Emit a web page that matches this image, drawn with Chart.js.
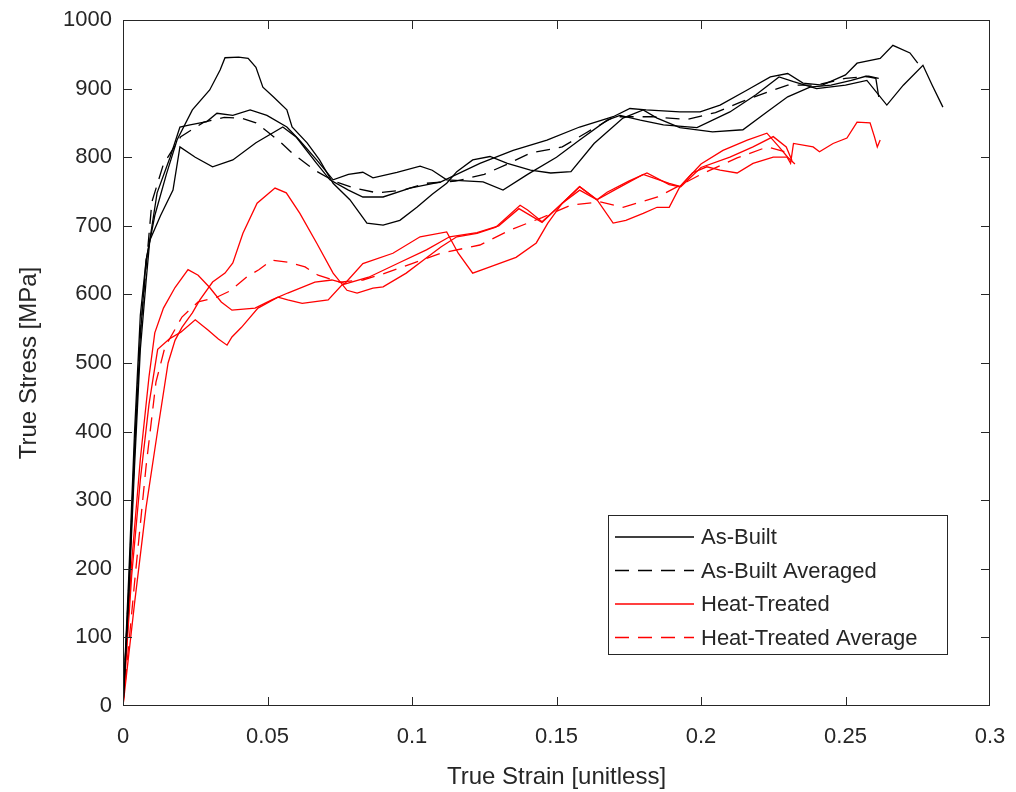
<!DOCTYPE html>
<html>
<head>
<meta charset="utf-8">
<script src="https://cdn.jsdelivr.net/npm/chart.js@4.4.1/dist/chart.umd.min.js"></script>
<style>
  body { margin: 0; background: #fff; }
  canvas { display: block; }
</style>
</head>
<body>
<canvas id="stressChart" width="1016" height="792"></canvas>
<script>
// axis ticks
const strainTicks = [0, 0.05, 0.1, 0.15, 0.2, 0.25, 0.3];
const stressTicks = [0, 100, 200, 300, 400, 500, 600, 700, 800, 900, 1000];

// As-Built specimens (strain, stress in MPa)
const ab1Strain = [0, 0.002, 0.004, 0.006, 0.008, 0.011, 0.015, 0.0187, 0.024, 0.030, 0.0336, 0.0353, 0.040, 0.0433, 0.046, 0.0484, 0.052, 0.0567, 0.0585, 0.0637, 0.068, 0.0727, 0.0785, 0.0844, 0.090, 0.0958, 0.1017, 0.107, 0.112, 0.1155, 0.121, 0.127, 0.133, 0.141, 0.148, 0.155, 0.163, 0.173, 0.180, 0.1848, 0.1927, 0.204, 0.2145, 0.2228, 0.230, 0.2377, 0.245, 0.252, 0.257, 0.2605, 0.2615];
const ab1Stress = [0, 170, 370, 540, 650, 715, 775, 825, 869, 898, 927, 945, 946, 944, 931, 902, 888, 869, 844, 821, 796, 762, 738, 704, 701, 708, 727, 746, 762, 779, 796, 801, 791, 781, 777, 779, 820, 857, 869, 857, 843, 837, 840, 866, 888, 902, 905, 912, 918, 915, 888];

const ab2Strain = [0, 0.002, 0.004, 0.006, 0.008, 0.0093, 0.0118, 0.0163, 0.0197, 0.0232, 0.029, 0.0325, 0.038, 0.044, 0.0498, 0.0567, 0.061, 0.067, 0.0727, 0.078, 0.083, 0.0865, 0.0948, 0.1028, 0.107, 0.112, 0.1246, 0.1315, 0.140, 0.150, 0.158, 0.1675, 0.172, 0.179, 0.187, 0.1986, 0.210, 0.219, 0.227, 0.232, 0.240, 0.250, 0.2574, 0.2643, 0.270, 0.2768, 0.280, 0.2837];
const ab2Stress = [0, 160, 350, 520, 620, 680, 748, 800, 844, 847, 852, 864, 861, 869, 861, 844, 825, 796, 767, 775, 778, 770, 778, 787, 781, 767, 764, 752, 775, 800, 825, 854, 861, 854, 847, 843, 866, 891, 917, 910, 900, 905, 912, 876, 905, 934, 905, 873];

const ab3Strain = [0, 0.002, 0.004, 0.006, 0.008, 0.0093, 0.013, 0.0173, 0.0197, 0.025, 0.031, 0.038, 0.046, 0.0553, 0.060, 0.067, 0.0716, 0.078, 0.083, 0.090, 0.0993, 0.110, 0.1235, 0.135, 0.1467, 0.158, 0.1696, 0.1754, 0.181, 0.1927, 0.1997, 0.2066, 0.216, 0.224, 0.230, 0.2353, 0.242, 0.250, 0.254, 0.262, 0.2664, 0.2723, 0.275];
const ab3Stress = [0, 190, 400, 570, 650, 679, 715, 752, 815, 800, 786, 796, 821, 844, 829, 791, 767, 752, 742, 742, 755, 764, 791, 810, 825, 844, 859, 871, 869, 866, 866, 876, 898, 917, 922, 908, 905, 920, 937, 944, 963, 952, 937];

const abAvgStrain = [0, 0.002, 0.004, 0.006, 0.008, 0.010, 0.014, 0.020, 0.028, 0.035, 0.041, 0.046, 0.050, 0.055, 0.0585, 0.0664, 0.073, 0.080, 0.088, 0.097, 0.105, 0.115, 0.125, 0.133, 0.141, 0.152, 0.160, 0.170, 0.183, 0.195, 0.205, 0.2135, 0.223, 0.230, 0.240, 0.250, 0.258, 0.2615];
const abAvgStress = [0, 175, 375, 545, 640, 735, 790, 830, 851, 858, 857, 850, 837, 820, 806, 781, 765, 755, 748, 752, 762, 765, 775, 790, 806, 815, 835, 859, 859, 855, 865, 880, 895, 905, 905, 915, 918, 915];

// Heat-Treated specimens
const ht1Strain = [0, 0.004, 0.008, 0.012, 0.0156, 0.018, 0.0204, 0.024, 0.0266, 0.031, 0.0353, 0.038, 0.0415, 0.0464, 0.0526, 0.0565, 0.0612, 0.067, 0.0727, 0.0775, 0.081, 0.0865, 0.090, 0.098, 0.104, 0.110, 0.1155, 0.1225, 0.129, 0.1374, 0.140, 0.145, 0.152, 0.158, 0.164, 0.1696, 0.174, 0.180, 0.1848, 0.189, 0.1927, 0.197, 0.202, 0.2066, 0.2125, 0.218, 0.225, 0.2298, 0.231, 0.232, 0.2388, 0.241, 0.2457, 0.2505, 0.254, 0.2585, 0.260, 0.261, 0.262];
const ht1Stress = [0, 150, 290, 402, 500, 533, 552, 573, 592, 618, 631, 646, 689, 733, 755, 748, 718, 675, 631, 606, 602, 609, 611, 631, 650, 669, 684, 689, 698, 730, 723, 706, 733, 757, 738, 704, 708, 718, 727, 727, 757, 777, 786, 781, 777, 791, 800, 800, 791, 820, 815, 808, 820, 828, 851, 850, 830, 815, 825];

const ht2Strain = [0, 0.003, 0.006, 0.009, 0.011, 0.014, 0.018, 0.0225, 0.026, 0.030, 0.034, 0.0377, 0.0457, 0.0515, 0.057, 0.0664, 0.0723, 0.0768, 0.083, 0.0934, 0.1028, 0.112, 0.116, 0.121, 0.127, 0.136, 0.143, 0.147, 0.152, 0.158, 0.164, 0.1675, 0.175, 0.1813, 0.189, 0.1927, 0.200, 0.2076, 0.216, 0.2228, 0.227, 0.230, 0.2325];
const ht2Stress = [0, 210, 360, 480, 544, 580, 610, 636, 628, 610, 589, 577, 580, 592, 602, 618, 621, 616, 645, 660, 684, 691, 660, 631, 640, 654, 675, 704, 733, 752, 738, 749, 765, 777, 760, 757, 790, 810, 825, 835, 815, 800, 790];

const ht3Strain = [0, 0.003, 0.006, 0.009, 0.012, 0.016, 0.020, 0.025, 0.0294, 0.033, 0.036, 0.0377, 0.041, 0.0467, 0.0536, 0.057, 0.062, 0.071, 0.0758, 0.085, 0.095, 0.105, 0.113, 0.1225, 0.130, 0.137, 0.145, 0.152, 0.158, 0.164, 0.170, 0.180, 0.189, 0.193, 0.200, 0.210, 0.218, 0.225, 0.2295, 0.2315];
const ht3Stress = [0, 190, 330, 440, 520, 535, 545, 563, 548, 535, 526, 538, 552, 580, 596, 592, 587, 592, 614, 625, 645, 665, 684, 690, 700, 725, 705, 733, 757, 738, 752, 775, 762, 757, 785, 800, 815, 830, 815, 795];

const htAvgStrain = [0, 0.004, 0.008, 0.0114, 0.0145, 0.0204, 0.026, 0.032, 0.037, 0.043, 0.047, 0.0515, 0.057, 0.063, 0.0675, 0.075, 0.083, 0.090, 0.100, 0.110, 0.1235, 0.134, 0.145, 0.155, 0.165, 0.173, 0.185, 0.200, 0.2125, 0.223, 0.2315];
const htAvgStress = [0, 180, 350, 472, 523, 567, 589, 595, 605, 626, 636, 650, 647, 640, 628, 618, 621, 630, 645, 660, 672, 694, 712, 730, 735, 727, 742, 775, 799, 815, 805];

const FONT = '"Liberation Sans", Arial, Helvetica, sans-serif';
const TEXT_COLOR = "#262626";
const BLACK = "#000000";
const RED = "#ff0000";
const DASH = [14, 9];

function series(label, xs, ys, color, dashed, inLegend) {
  return {
    label: label,
    data: xs.map((x, i) => ({ x: x, y: ys[i] })),
    borderColor: color,
    borderWidth: 1.3,
    borderDash: dashed ? DASH : [],
    showLine: true,
    pointRadius: 0,
    tension: 0,
    inLegend: inLegend
  };
}

const datasets = [
  series("As-Built", ab1Strain, ab1Stress, BLACK, false, true),
  series("As-Built", ab2Strain, ab2Stress, BLACK, false, false),
  series("As-Built", ab3Strain, ab3Stress, BLACK, false, false),
  series("As-Built Averaged", abAvgStrain, abAvgStress, BLACK, true, true),
  series("Heat-Treated", ht1Strain, ht1Stress, RED, false, true),
  series("Heat-Treated", ht2Strain, ht2Stress, RED, false, false),
  series("Heat-Treated", ht3Strain, ht3Stress, RED, false, false),
  series("Heat-Treated Average", htAvgStrain, htAvgStress, RED, true, true)
];

// MATLAB-like box with inward ticks, plus the boxed legend in the lower right
const framePlugin = {
  id: "frame",
  afterDatasetsDraw(chart) {
    const ctx = chart.ctx;
    const a = chart.chartArea;
    const xs = chart.scales.x;
    const ys = chart.scales.y;
    const tick = 9;
    ctx.save();
    ctx.strokeStyle = TEXT_COLOR;
    ctx.lineWidth = 1;
    ctx.setLineDash([]);
    ctx.strokeRect(a.left + 0.5, a.top + 0.5, a.right - a.left - 1, a.bottom - a.top - 1);
    ctx.beginPath();
    strainTicks.slice(1, -1).forEach(v => {
      const px = Math.round(xs.getPixelForValue(v)) + 0.5;
      ctx.moveTo(px, a.bottom);
      ctx.lineTo(px, a.bottom - tick);
      ctx.moveTo(px, a.top);
      ctx.lineTo(px, a.top + tick);
    });
    stressTicks.slice(1, -1).forEach(v => {
      const py = Math.round(ys.getPixelForValue(v)) + 0.5;
      ctx.moveTo(a.left, py);
      ctx.lineTo(a.left + tick, py);
      ctx.moveTo(a.right, py);
      ctx.lineTo(a.right - tick, py);
    });
    ctx.stroke();

    // legend
    const items = chart.data.datasets.filter(d => d.inLegend);
    const boxW = 339, boxH = 139;
    const bx = a.right - 43 - boxW;
    const by = a.bottom - 52 - boxH;
    ctx.fillStyle = "#fff";
    ctx.fillRect(bx, by, boxW, boxH);
    ctx.strokeStyle = TEXT_COLOR;
    ctx.strokeRect(bx + 0.5, by + 0.5, boxW, boxH);
    ctx.font = "22px " + FONT;
    ctx.textBaseline = "middle";
    ctx.textAlign = "left";
    items.forEach((d, i) => {
      const cy = by + 22 + i * 33.5;
      ctx.strokeStyle = d.borderColor;
      ctx.lineWidth = 1.3;
      ctx.setLineDash(d.borderDash);
      ctx.beginPath();
      ctx.moveTo(bx + 7, cy);
      ctx.lineTo(bx + 86, cy);
      ctx.stroke();
      ctx.setLineDash([]);
      ctx.fillStyle = TEXT_COLOR;
      ctx.fillText(d.label, bx + 93, cy + 1);
    });
    ctx.restore();
  }
};

new Chart(document.getElementById("stressChart"), {
  type: "scatter",
  data: { datasets: datasets },
  options: {
    responsive: false,
    animation: false,
    layout: { padding: { top: 20, right: 26, left: 0, bottom: 0 } },
    plugins: {
      legend: { display: false },
      tooltip: { enabled: false }
    },
    scales: {
      x: {
        type: "linear",
        min: 0,
        max: 0.3,
        afterBuildTicks: s => { s.ticks = strainTicks.map(v => ({ value: v })); },
        afterFit: s => { s.height = 86; s.paddingLeft = 0; s.paddingRight = 0; },
        grid: { display: false, drawTicks: false },
        border: { display: false },
        ticks: {
          padding: 18,
          color: TEXT_COLOR,
          font: { family: FONT, size: 22 },
          callback: v => String(v)
        },
        title: {
          display: true,
          text: "True Strain [unitless]",
          color: TEXT_COLOR,
          font: { family: FONT, size: 24 },
          padding: { top: 0, bottom: 0 }
        }
      },
      y: {
        type: "linear",
        min: 0,
        max: 1000,
        afterBuildTicks: s => { s.ticks = stressTicks.map(v => ({ value: v })); },
        afterFit: s => { s.width = 123; s.paddingTop = 0; s.paddingBottom = 0; },
        grid: { display: false, drawTicks: false },
        border: { display: false },
        ticks: {
          padding: 11,
          color: TEXT_COLOR,
          font: { family: FONT, size: 22 },
          callback: v => String(v)
        },
        title: {
          display: true,
          text: "True Stress [MPa]",
          color: TEXT_COLOR,
          font: { family: FONT, size: 24 },
          padding: { top: 15, bottom: 0 }
        }
      }
    }
  },
  plugins: [framePlugin]
});
</script>
</body>
</html>
